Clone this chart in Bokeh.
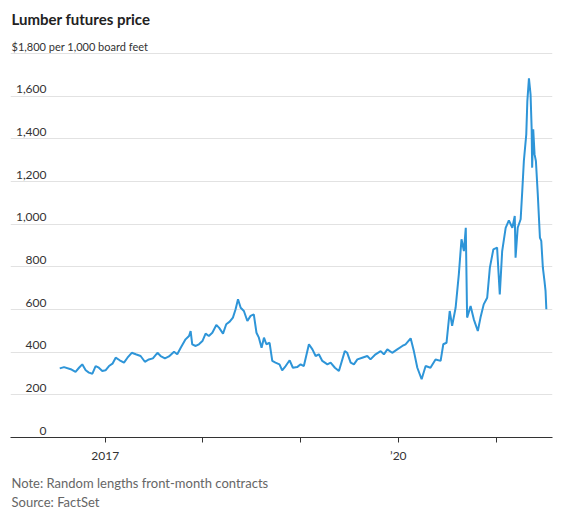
import pandas as pd
from bokeh.plotting import figure
from bokeh.models import FixedTicker, CustomJSTickFormatter, Label, Range1d, Title
from bokeh.embed import file_html
from bokeh.resources import INLINE

title_text = "Lumber futures price"
unit_text = "$1,800 per 1,000 board feet"
note_text = "Note: Random lengths front-month contracts"
source_text = "Source: FactSet"

dates = [
    "2016-07-15", "2016-07-31", "2016-08-25", "2016-09-12", "2016-09-25", "2016-10-07",
    "2016-10-20", "2016-11-01", "2016-11-14", "2016-11-26", "2016-12-08", "2016-12-21",
    "2017-01-02", "2017-01-15", "2017-01-28", "2017-02-09", "2017-02-24", "2017-03-12",
    "2017-03-25", "2017-04-10", "2017-04-25", "2017-05-13", "2017-05-29", "2017-06-13",
    "2017-06-28", "2017-07-15", "2017-07-27", "2017-08-12", "2017-08-27", "2017-09-15",
    "2017-09-27", "2017-10-10", "2017-10-28", "2017-11-10", "2017-11-16", "2017-11-22",
    "2017-12-05", "2017-12-17", "2017-12-30", "2018-01-11", "2018-01-23", "2018-02-05",
    "2018-02-20", "2018-03-02", "2018-03-17", "2018-03-29", "2018-04-11", "2018-04-23",
    "2018-05-03", "2018-05-12", "2018-05-22", "2018-06-03", "2018-06-16", "2018-06-28",
    "2018-07-10", "2018-07-20", "2018-07-29", "2018-08-08", "2018-08-17", "2018-08-26",
    "2018-09-07", "2018-09-17", "2018-09-29", "2018-10-14", "2018-10-24", "2018-11-06",
    "2018-11-21", "2018-12-03", "2018-12-19", "2019-01-01", "2019-01-13", "2019-02-01",
    "2019-02-14", "2019-02-26", "2019-03-10", "2019-03-23", "2019-04-11", "2019-04-23",
    "2019-05-09", "2019-05-24", "2019-06-15", "2019-06-24", "2019-07-07", "2019-07-19",
    "2019-08-01", "2019-08-19", "2019-09-07", "2019-09-19", "2019-10-08", "2019-10-27",
    "2019-11-08", "2019-11-21", "2019-12-09", "2019-12-28", "2020-01-16", "2020-01-28",
    "2020-02-16", "2020-02-28", "2020-03-12", "2020-03-28", "2020-04-12", "2020-04-30",
    "2020-05-19", "2020-06-07", "2020-06-17", "2020-06-29", "2020-07-11", "2020-07-20",
    "2020-08-02", "2020-08-14", "2020-08-24", "2020-09-02", "2020-09-09", "2020-09-14",
    "2020-09-27", "2020-10-09", "2020-10-24", "2020-11-03", "2020-11-15", "2020-11-28",
    "2020-12-08", "2020-12-21", "2021-01-04", "2021-01-14", "2021-01-23", "2021-02-05",
    "2021-02-17", "2021-03-02", "2021-03-11", "2021-03-14", "2021-03-22", "2021-04-02",
    "2021-04-08", "2021-04-14", "2021-04-23", "2021-04-27", "2021-05-03", "2021-05-09",
    "2021-05-13", "2021-05-15", "2021-05-19", "2021-05-24", "2021-05-29", "2021-06-05",
    "2021-06-13", "2021-06-18", "2021-06-24", "2021-06-30", "2021-07-04", "2021-07-07",
]
prices = [
    324, 330, 320, 308, 327, 343,
    315, 304, 299, 335, 327, 312,
    315, 335, 346, 374, 362, 351,
    374, 397, 390, 382, 355, 366,
    371, 397, 382, 371, 380, 402,
    390, 421, 460, 476, 499, 437,
    429, 437, 452, 487, 476, 491,
    527, 515, 487, 531, 543, 562,
    601, 648, 608, 593, 546, 570,
    577, 491, 468, 421, 468, 437,
    444, 359, 351, 343, 315, 335,
    362, 327, 330, 343, 335, 437,
    413, 382, 390, 359, 343, 351,
    327, 312, 405, 397, 351, 343,
    366, 374, 382, 366, 390, 405,
    390, 413, 397, 413, 429, 437,
    465, 405, 327, 273, 335, 327,
    366, 359, 437, 444, 593, 523,
    608, 765, 929, 874, 983, 562,
    616, 554, 499, 562, 624, 655,
    796, 882, 890, 671, 874, 983,
    1018, 983, 1038, 843, 983, 1023,
    1155, 1296, 1421, 1577, 1684, 1609,
    1452, 1265, 1445, 1327, 1296, 1140,
    937, 922, 796, 734, 687, 601,
]

y_ticks = [0, 200, 400, 600, 800, 1000, 1200, 1400, 1600, 1800]
y_labels = ["0", "200", "400", "600", "800", "1,000", "1,200", "1,400", "1,600", unit_text]
x_tick_years = [2017, 2018, 2019, 2020, 2021]
x_tick_labels = ["2017", "", "", "\u201920", ""]

FONT = "Lato"
x_start = pd.Timestamp("2016-01-13")
x_end = pd.Timestamp("2021-07-30")
xs_ms = x_start.timestamp() * 1000

W, H = 556, 523
B_LEFT, B_RIGHT, B_TOP, B_BOTTOM = 10, 4, 4, 86
frame_h = H - B_TOP - B_BOTTOM
px_per_unit = 384 / 1800
y_end = frame_h / px_per_unit

p = figure(width=W, height=H, x_axis_type="datetime",
           x_range=Range1d(x_start, x_end), y_range=Range1d(0, y_end),
           output_backend="svg", toolbar_location=None,
           min_border_left=B_LEFT, min_border_right=B_RIGHT,
           min_border_top=B_TOP, min_border_bottom=B_BOTTOM)
p.outline_line_color = None
p.background_fill_color = "white"
p.border_fill_color = "white"

p.line(pd.to_datetime(dates), prices, line_color="#2e95d8", line_width=2)

p.yaxis.visible = False
p.ygrid.ticker = FixedTicker(ticks=y_ticks[1:])
p.ygrid.grid_line_color = "#e2e2e2"
p.ygrid.grid_line_width = 1
p.xgrid.visible = False

xt = [pd.Timestamp(f"{y}-01-01").timestamp() * 1000 for y in x_tick_years]
p.xaxis.ticker = FixedTicker(ticks=xt, minor_ticks=[])
p.xaxis.formatter = CustomJSTickFormatter(args=dict(years=x_tick_years, labels=x_tick_labels), code="""
const i = years.indexOf(new Date(tick).getUTCFullYear());
return i >= 0 ? labels[i] : "";
""")
p.xaxis.axis_line_color = "#333333"
p.xaxis.axis_line_width = 1
p.xaxis.major_tick_line_color = "#333333"
p.xaxis.major_tick_out = 5
p.xaxis.major_tick_in = 0
p.xaxis.minor_tick_line_color = None
p.xaxis.major_label_standoff = 5
p.xaxis.major_label_text_font = FONT
p.xaxis.major_label_text_font_size = "12px"
p.xaxis.major_label_text_color = "#333333"

for v, lab in zip(y_ticks, y_labels):
    if v == 1800:
        p.add_layout(Label(x=xs_ms, y=v, x_offset=1, y_offset=7, text=lab,
                           text_align="left", text_baseline="alphabetic",
                           text_font=FONT, text_font_size="11px", text_color="#333333"))
    else:
        p.add_layout(Label(x=xs_ms, y=v, x_offset=36, y_offset=7, text=lab,
                           text_align="right", text_baseline="alphabetic",
                           text_font=FONT, text_font_size="12px", text_color="#333333"))

p.add_layout(Label(x=xs_ms, y=1800, x_offset=1, y_offset=35, text=title_text,
                   text_align="left", text_baseline="middle", text_font=FONT,
                   text_font_size="15px", text_font_style="bold", text_color="#222222"))

p.add_layout(Title(text=note_text + "\n" + source_text, align="left", offset=1, standoff=15,
                   text_font=FONT, text_font_size="13px", text_font_style="normal",
                   text_line_height=1.2, text_color="#666666"), "below")

open("out.html", "w").write(file_html(p, INLINE))
